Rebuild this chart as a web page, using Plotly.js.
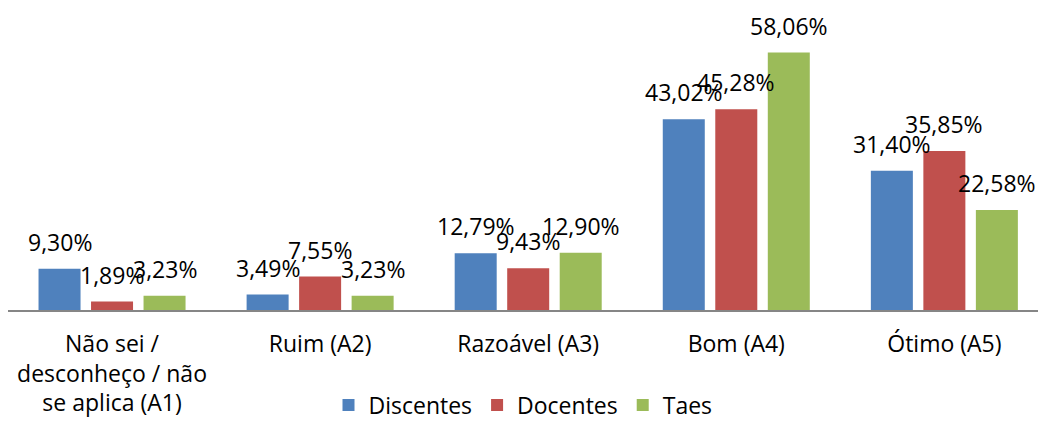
<!DOCTYPE html>
<html>
<head>
<meta charset="utf-8">
<script src="https://cdn.plot.ly/plotly-3.0.1.min.js"></script>
<style>html,body{margin:0;padding:0;background:#fff;}#chart{width:1038px;height:421px;}</style>
</head>
<body>
<div id="chart"></div>
<script>
const categories = ["Não sei /<br>desconheço / não<br>se aplica (A1)", "Ruim (A2)", "Razoável (A3)", "Bom (A4)", "Ótimo (A5)"];
const seriesNames = ["Discentes", "Docentes", "Taes"];
const discentes = [9.30, 3.49, 12.79, 43.02, 31.40];
const docentes = [1.89, 7.55, 9.43, 45.28, 35.85];
const taes = [3.23, 3.23, 12.90, 58.06, 22.58];
const colors = ["#4F81BD", "#C0504D", "#9BBB59"];

const allSeries = [discentes, docentes, taes];
const fontFam = "'Open Sans', 'Liberation Sans', sans-serif";
const fontSize = 23;
const fmt = v => v.toFixed(2).replace('.', ',') + '%';

const traces = allSeries.map((vals, i) => ({
  type: 'bar',
  name: seriesNames[i],
  x: categories,
  y: vals,
  marker: {color: colors[i]},
  hoverinfo: 'none'
}));

const offsets = [-52.5, 0, 52.5];
const annotations = [];
allSeries.forEach((vals, i) => {
  vals.forEach((v, j) => {
    annotations.push({
      x: categories[j], y: v, xref: 'x', yref: 'y',
      text: fmt(v), showarrow: false,
      xanchor: 'center', yanchor: 'middle',
      xshift: offsets[i], yshift: 27,
      font: {family: fontFam, size: fontSize, color: '#000'}
    });
  });
});

const layout = {
  width: 1038, height: 421,
  margin: {l: 8, r: 0, t: 44, b: 111, autoexpand: false},
  paper_bgcolor: '#fff', plot_bgcolor: '#fff',
  barmode: 'group', bargap: 0.243, bargroupgap: 0.2,
  font: {family: fontFam, size: fontSize, color: '#000'},
  showlegend: true,
  legend: {orientation: 'h', x: 0.5, xanchor: 'center', y: -0.357, yanchor: 'middle',
           font: {family: fontFam, size: fontSize, color: '#000'}, itemwidth: 30, traceorder: 'normal'},
  xaxis: {type: 'category', range: [-0.5, 4.45], showline: true, linecolor: '#868686', linewidth: 2,
          ticks: '', showgrid: false, zeroline: false, ticklabelstandoff: 12, automargin: false,
          tickfont: {family: fontFam, size: fontSize, color: '#000'}, fixedrange: true},
  yaxis: {range: [0, 60], visible: false, showgrid: false, zeroline: false, fixedrange: true, automargin: false},
  annotations: annotations
};

Plotly.newPlot('chart', traces, layout, {displayModeBar: false, staticPlot: true});
</script>
</body>
</html>
